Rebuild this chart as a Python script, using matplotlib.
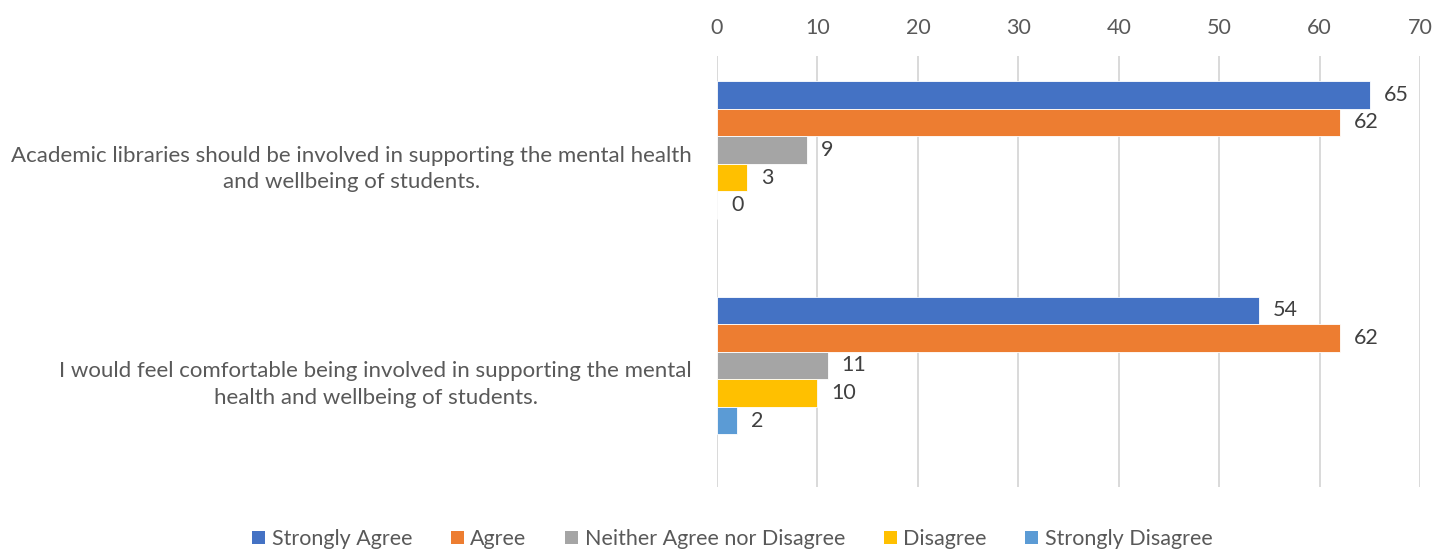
import matplotlib.pyplot as plt
import numpy as np
from matplotlib.patches import Patch

plt.rcParams["font.family"] = ["Lato", "DejaVu Sans"]

categories = [
    "Academic libraries should be involved in supporting the mental health\nand wellbeing of students.",
    "I would feel comfortable being involved in supporting the mental\nhealth and wellbeing of students.",
]
series_names = [
    "Strongly Agree",
    "Agree",
    "Neither Agree nor Disagree",
    "Disagree",
    "Strongly Disagree",
]
strongly_agree = [65, 54]
agree = [62, 62]
neither = [9, 11]
disagree = [3, 10]
strongly_disagree = [0, 2]
series_values = [strongly_agree, agree, neither, disagree, strongly_disagree]
colors = ["#4472C4", "#ED7D31", "#A5A5A5", "#FFC000", "#5B9BD5"]

text_color = "#595959"
label_color = "#404040"

fig = plt.figure(figsize=(14.39, 5.5), dpi=100)
ax = fig.add_axes([0.4983, 0.1145, 0.4885, 0.7837])

# Excel layout: six slots per category (last one empty)
h = 0.128
y = np.arange(len(categories))
for i, (name, vals, col) in enumerate(zip(series_names, series_values, colors)):
    pos = y + (i - 2.5) * h
    ax.barh(pos, vals, height=h, color=col, label=name, edgecolor="white",
            linewidth=0.6)
    for yy, v in zip(pos, vals):
        ax.annotate(str(v), xy=(v, yy), xytext=(10, 0), textcoords="offset points",
                    ha="left", va="center", fontsize=15.5, color=label_color)

ax.set_xlim(0, 70)
ax.set_ylim(len(categories) - 0.5, -0.5)
ax.set_xticks(range(0, 71, 10))
ax.xaxis.tick_top()
ax.tick_params(axis="x", length=0, pad=13, labelsize=15.5, labelcolor=text_color)
ax.set_yticks(y)
ax.set_yticklabels(categories, fontsize=16, color=text_color,
                   multialignment="center", linespacing=1.4)
ax.tick_params(axis="y", length=0, pad=18)

ax.grid(axis="x", color="#D9D9D9", linewidth=1.4)
ax.set_axisbelow(True)
for s in ax.spines.values():
    s.set_visible(False)

handles = [Patch(facecolor=c, label=n) for c, n in zip(colors, series_names)]
fig.legend(handles=handles, loc="center", bbox_to_anchor=(0.509, 0.02), ncol=5,
           frameon=False, fontsize=15.5, handlelength=0.6, handleheight=0.6,
           handletextpad=0.3, columnspacing=1.8, labelcolor=text_color)

fig.savefig("out.png", dpi=100)
